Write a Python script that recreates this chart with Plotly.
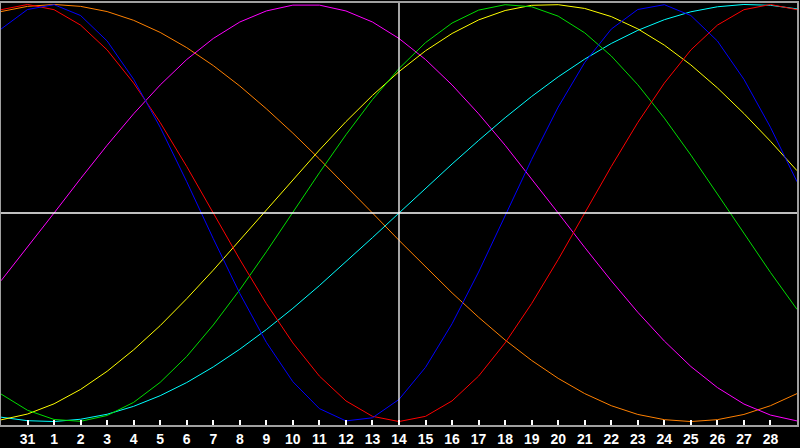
import plotly.graph_objects as go

# day labels along the bottom (first and last day are cut by the frame)
days = [30, 31, 1, 2, 3, 4, 5, 6, 7, 8, 9, 10, 11, 12, 13, 14, 15,
        16, 17, 18, 19, 20, 21, 22, 23, 24, 25, 26, 27, 28, 29]
today = 14

# curve values per day (-1 .. 1)
red = [0.975, 1.0, 0.975, 0.901, 0.782, 0.623, 0.434, 0.223, 0.0, -0.223,
       -0.434, -0.623, -0.782, -0.901, -0.975, -1.0, -0.975, -0.901, -0.782, -0.623,
       -0.434, -0.223, 0.0, 0.223, 0.434, 0.623, 0.782, 0.901, 0.975, 1.0, 0.975]
blue = [0.882, 0.976, 0.999, 0.947, 0.825, 0.641, 0.411, 0.150, -0.123, -0.386,
        -0.620, -0.809, -0.938, -0.997, -0.982, -0.894, -0.740, -0.531, -0.283, -0.014,
        0.257, 0.508, 0.722, 0.882, 0.976, 0.999, 0.947, 0.825, 0.641, 0.411, 0.150]
green = [-0.868, -0.946, -0.990, -0.999, -0.971, -0.908, -0.812, -0.688, -0.537, -0.368,
         -0.186, 0.004, 0.193, 0.375, 0.544, 0.693, 0.817, 0.911, 0.973, 0.999,
         0.989, 0.944, 0.864, 0.753, 0.615, 0.455, 0.278, 0.091, -0.099, -0.285, -0.462]
yellow = [-0.992, -0.964, -0.915, -0.846, -0.759, -0.656, -0.540, -0.411, -0.274, -0.131,
          0.015, 0.160, 0.302, 0.438, 0.564, 0.678, 0.778, 0.861, 0.926, 0.971,
          0.996, 0.999, 0.981, 0.942, 0.883, 0.805, 0.710, 0.600, 0.477, 0.344, 0.203]
cyan = [-0.979, -0.996, -1.0, -0.989, -0.965, -0.927, -0.876, -0.813, -0.738, -0.653,
        -0.559, -0.457, -0.348, -0.235, -0.118, 0.0, 0.118, 0.235, 0.348, 0.457,
        0.559, 0.653, 0.738, 0.813, 0.876, 0.927, 0.965, 0.989, 1.0, 0.996, 0.979]
magenta = [-0.325, -0.165, 0.0, 0.165, 0.325, 0.476, 0.614, 0.736, 0.837, 0.916,
           0.969, 0.997, 0.997, 0.969, 0.916, 0.837, 0.736, 0.614, 0.476, 0.325,
           0.165, 0.0, -0.165, -0.325, -0.476, -0.614, -0.736, -0.837, -0.916, -0.969, -0.997]
orange = [0.966, 0.991, 1.0, 0.991, 0.966, 0.924, 0.866, 0.793, 0.707, 0.609,
          0.5, 0.383, 0.259, 0.131, 0.0, -0.131, -0.259, -0.383, -0.5, -0.609,
          -0.707, -0.793, -0.866, -0.924, -0.966, -0.991, -1.0, -0.991, -0.966, -0.924, -0.866]

series = [
    (orange, '#FF8000'),
    (magenta, '#FF00FF'),
    (cyan, '#00FFFF'),
    (yellow, '#FFFF00'),
    (green, '#00DD00'),
    (red, '#FF0000'),
    (blue, '#0000FF'),
]

pos = list(range(len(days)))

fig = go.Figure()

for values, color in series:
    fig.add_trace(go.Scatter(
        x=pos,
        y=values,
        mode='lines',
        line=dict(color=color, width=1),
        hoverinfo='skip'
    ))

# white cross: zero line and today
fig.add_shape(type='line', xref='paper', x0=0, x1=1, y0=0, y1=0,
              line=dict(color='white', width=1.3))
fig.add_shape(type='line', yref='paper', x0=days.index(today), x1=days.index(today),
              y0=0, y1=1, line=dict(color='white', width=1.3))

fig.update_layout(
    width=800,
    height=448,
    margin=dict(l=1, r=1, t=1, b=20),
    paper_bgcolor='black',
    plot_bgcolor='black',
    showlegend=False,
    xaxis=dict(
        range=[0, len(days) - 1],
        tickmode='array',
        tickvals=pos[1:-1],
        ticktext=[str(d) for d in days[1:-1]],
        ticks='inside',
        ticklen=5,
        tickwidth=1.5,
        tickcolor='white',
        tickfont=dict(family='Liberation Sans', size=14, color='white', weight='bold'),
        showgrid=False,
        zeroline=False,
        showline=True,
        linecolor='#A0A0A0',
        linewidth=1.5,
        mirror=True,
    ),
    yaxis=dict(
        range=[-1.0166, 1.0071],
        showticklabels=False,
        ticks='',
        showgrid=False,
        zeroline=False,
        showline=True,
        linecolor='#A0A0A0',
        linewidth=1.5,
        mirror=True,
    ),
)

# drop the page's default body margin so the figure fills the window
fig.write_html(
    "out.html",
    config={'displayModeBar': False},
    post_script="document.body.style.margin='0';document.body.style.background='black';"
)
